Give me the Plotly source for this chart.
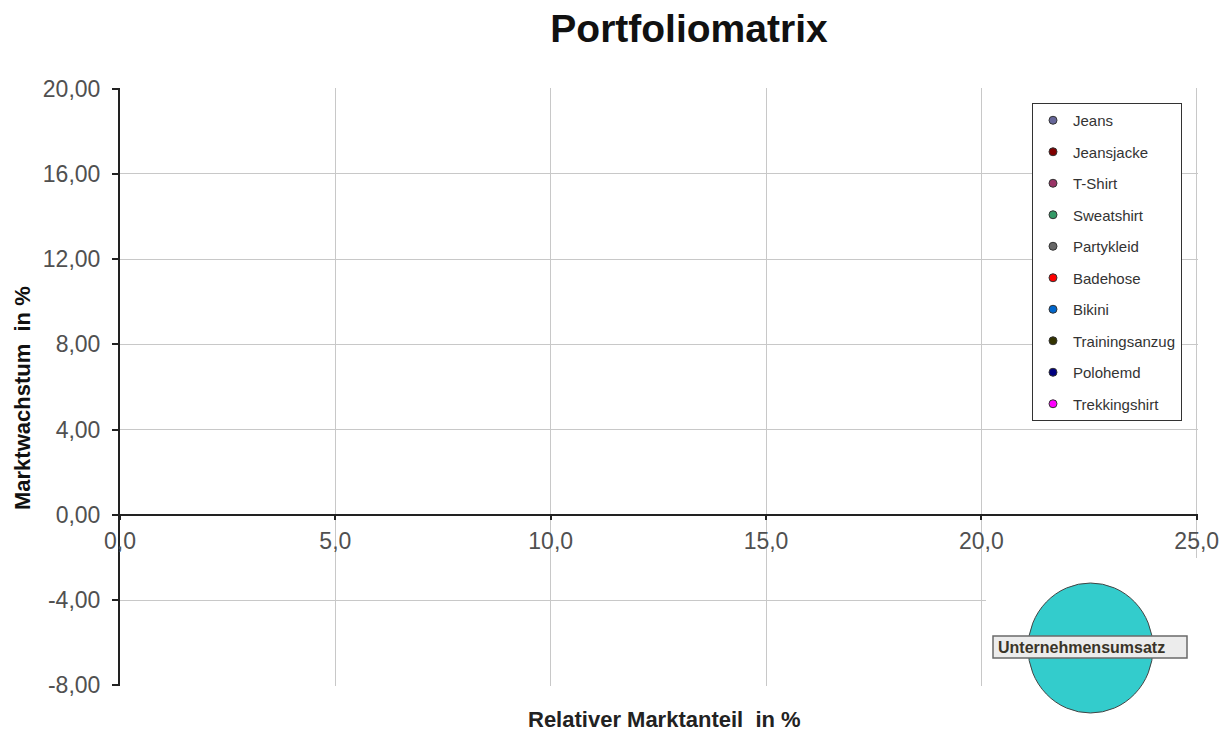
import plotly.graph_objects as go

# ---- data ----
produkte = ["Jeans", "Jeansjacke", "T-Shirt", "Sweatshirt", "Partykleid",
            "Badehose", "Bikini", "Trainingsanzug", "Polohemd", "Trekkingshirt"]
farben = ["#666699", "#800000", "#993366", "#339966", "#666666",
          "#ff0000", "#0066cc", "#333300", "#000080", "#ff00ff"]
# values are not visible in the chart (no bubbles drawn)
marktanteil = [None, None, None, None, None, None, None, None, None, None]
marktwachstum = [None, None, None, None, None, None, None, None, None, None]
umsatz = [None, None, None, None, None, None, None, None, None, None]

x_ticks = [0, 5, 10, 15, 20, 25]
x_tick_labels = ["0,0", "5,0", "10,0", "15,0", "20,0", "25,0"]
y_ticks = [-8, -4, 0, 4, 8, 12, 16, 20]
y_tick_labels = ["-8,00", "-4,00", "0,00", "4,00", "8,00", "12,00", "16,00", "20,00"]
x_range = [0, 25.03]
y_range = [-8.03, 20.03]

FONT = "Arial, Liberation Sans, sans-serif"

fig = go.Figure()
for i, name in enumerate(produkte):
    fig.add_trace(go.Scatter(
        x=[marktanteil[i]], y=[marktwachstum[i]], name=name, mode="markers",
        legendgroup=name,
        marker=dict(size=8, color=farben[i], line=dict(color="#333333", width=1)),
    ))

OFF = 8  # page body margin
W, H = 1228 - OFF, 733 - OFF
L, R, T, B = 120 - OFF, 30, 88 - OFF, 47
pw, ph = W - L - R, H - T - B


def px(xs):
    return (xs - OFF - L) / pw


def py(ys):
    return (H - B - (ys - OFF)) / ph


fig.update_layout(
    width=W, height=H,
    margin=dict(l=L, r=R, t=T, b=B, autoexpand=False),
    paper_bgcolor="white", plot_bgcolor="white",
    font=dict(family=FONT, color="#505050"),
    title=dict(text="<b>Portfoliomatrix</b>", x=px(689), xref="paper", xanchor="center",
               y=1 - (28 - OFF) / H, yanchor="middle", font=dict(size=39, color="#111111", family=FONT)),
    xaxis=dict(range=x_range, tickvals=x_ticks, ticktext=x_tick_labels,
               showgrid=True, gridcolor="#c8c8c8", gridwidth=1,
               showline=True, linecolor="#222222", linewidth=2,
               ticks="outside", ticklen=4, tickwidth=2, tickcolor="#222222",
               tickfont=dict(size=23, color="#505050"), ticklabelstandoff=2,
               zeroline=False, anchor="free",
               position=-y_range[0] / (y_range[1] - y_range[0])),
    yaxis=dict(range=y_range, tickvals=y_ticks, ticktext=y_tick_labels,
               showgrid=True, gridcolor="#c8c8c8", gridwidth=1,
               showline=True, linecolor="#222222", linewidth=2,
               ticks="outside", ticklen=6, tickwidth=2, tickcolor="#222222",
               tickfont=dict(size=23, color="#505050"), ticklabelstandoff=7,
               zeroline=False),
    legend=dict(x=px(1032), y=py(103), xanchor="left", yanchor="top",
                bgcolor="white", bordercolor="#333333", borderwidth=1,
                font=dict(size=15, color="#333333", family=FONT),
                tracegroupgap=9, itemwidth=30),
    showlegend=True,
)

fig.add_annotation(text="<b>Marktwachstum  in %</b>", xref="paper", yref="paper",
                   x=px(22), y=py(398), textangle=-90, showarrow=False,
                   xanchor="center", yanchor="middle",
                   font=dict(size=22, color="#111111", family=FONT))
fig.add_annotation(text="<b>Relativer Marktanteil  in %</b>", xref="paper", yref="paper",
                   x=px(664), y=py(719), showarrow=False,
                   xanchor="center", yanchor="middle",
                   font=dict(size=22, color="#222222", family=FONT))

# bubble-size key (lower right)
fig.add_shape(type="rect", xref="paper", yref="paper", layer="above",
              x0=px(986), x1=px(1240), y0=py(745), y1=py(558),
              fillcolor="white", line=dict(width=0))
fig.add_shape(type="circle", xref="paper", yref="paper", layer="above",
              x0=px(1028), x1=px(1153), y0=py(713), y1=py(583),
              fillcolor="#33cccc", line=dict(color="#444444", width=1))
fig.add_shape(type="rect", xref="paper", yref="paper", layer="above",
              x0=px(993), x1=px(1187), y0=py(658), y1=py(636),
              fillcolor="#ececec", line=dict(color="#6a6a6a", width=1.5))
fig.add_annotation(text="<b>Unternehmensumsatz</b>", xref="paper", yref="paper",
                   x=px(996), y=py(647), xanchor="left", yanchor="middle", showarrow=False,
                   font=dict(size=16, color="#3a3428", family=FONT))

fig.write_html("out.html")
